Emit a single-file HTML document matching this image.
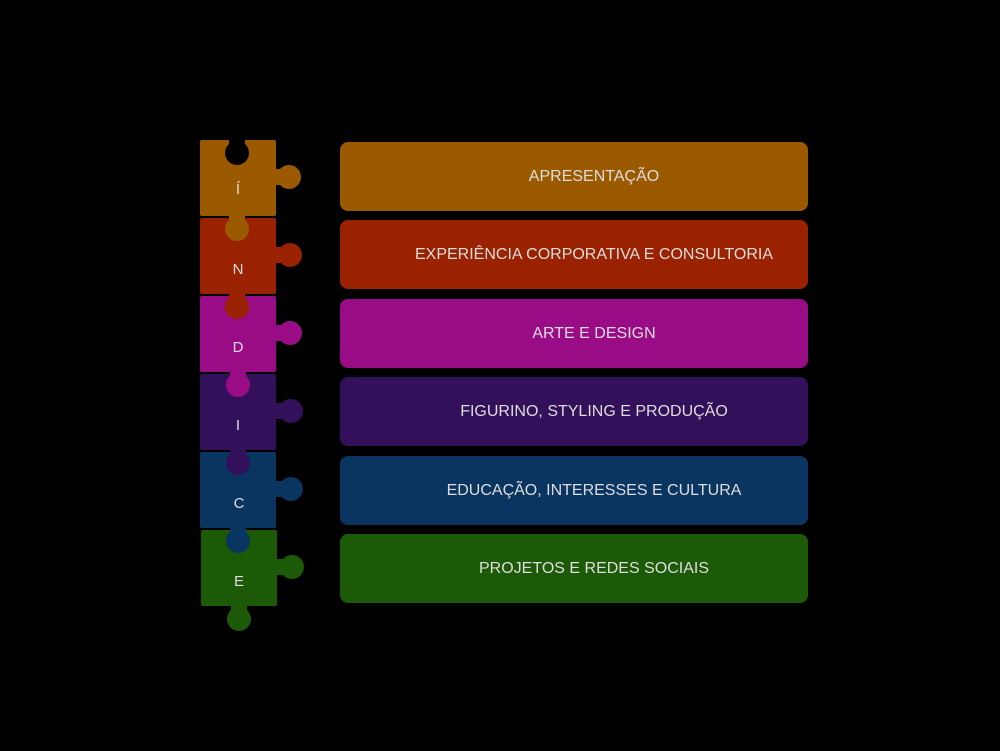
<!DOCTYPE html>
<html><head><style>
body{margin:0;background:#000;width:1000px;height:751px;overflow:hidden;position:relative;font-family:"Liberation Sans",sans-serif}
.bar{position:absolute;left:340px;width:468px;height:69px;border-radius:8px;color:#ddd;font-size:16px;display:flex;align-items:center;justify-content:center;padding-left:40px;box-sizing:border-box}
svg{position:absolute;left:0;top:0}
</style></head><body>
<svg width="1000" height="751">
<rect x="200" y="140" width="76" height="76" rx="2" fill="#9c5a00"/>
<rect x="200" y="218" width="76" height="76" rx="2" fill="#9a2200"/>
<rect x="200" y="296" width="76" height="76" rx="2" fill="#9a0c86"/>
<rect x="200" y="374" width="76" height="76" rx="2" fill="#33105a"/>
<rect x="200" y="452" width="76" height="76" rx="2" fill="#0a3560"/>
<rect x="201" y="530" width="76" height="76" rx="2" fill="#1d5a08"/>
<circle cx="237" cy="153" r="12" fill="#000"/>
<rect x="229" y="138" width="16" height="10" fill="#000"/>
<g>
<rect x="272" y="169" width="12" height="16" fill="#9c5a00"/><circle cx="289" cy="177" r="12" fill="#9c5a00"/>
<rect x="229" y="212" width="16" height="10" fill="#9c5a00"/><circle cx="237" cy="229" r="12" fill="#9c5a00"/>
<rect x="272" y="247" width="12" height="16" fill="#9a2200"/><circle cx="290" cy="255" r="12" fill="#9a2200"/>
<rect x="229" y="290" width="16" height="10" fill="#9a2200"/><circle cx="237" cy="307" r="12" fill="#9a2200"/>
<rect x="272" y="325" width="12" height="16" fill="#9a0c86"/><circle cx="290" cy="333" r="12" fill="#9a0c86"/>
<rect x="230" y="368" width="16" height="10" fill="#9a0c86"/><circle cx="238" cy="385" r="12" fill="#9a0c86"/>
<rect x="272" y="403" width="12" height="16" fill="#33105a"/><circle cx="291" cy="411" r="12" fill="#33105a"/>
<rect x="230" y="446" width="16" height="10" fill="#33105a"/><circle cx="238" cy="463" r="12" fill="#33105a"/>
<rect x="272" y="481" width="12" height="16" fill="#0a3560"/><circle cx="291" cy="489" r="12" fill="#0a3560"/>
<rect x="230" y="524" width="16" height="10" fill="#0a3560"/><circle cx="238" cy="541" r="12" fill="#0a3560"/>
<rect x="273" y="559" width="12" height="16" fill="#1d5a08"/><circle cx="292" cy="567" r="12" fill="#1d5a08"/>
<rect x="231" y="602" width="16" height="10" fill="#1d5a08"/><circle cx="239" cy="619" r="12" fill="#1d5a08"/>
</g>
<g fill="#ddd" font-family="Liberation Sans, sans-serif" font-size="15" text-anchor="middle">
<text x="238" y="194">Í</text>
<text x="238" y="274">N</text>
<text x="238" y="352">D</text>
<text x="238" y="430">I</text>
<text x="239" y="508">C</text>
<text x="239" y="586">E</text>
</g>
</svg>
<div class="bar" style="top:142px;background:#9c5a00">APRESENTAÇÃO</div>
<div class="bar" style="top:220px;background:#9a2200">EXPERIÊNCIA CORPORATIVA E CONSULTORIA</div>
<div class="bar" style="top:299px;background:#9a0c86">ARTE E DESIGN</div>
<div class="bar" style="top:377px;background:#33105a">FIGURINO, STYLING E PRODUÇÃO</div>
<div class="bar" style="top:456px;background:#0a3560">EDUCAÇÃO, INTERESSES E CULTURA</div>
<div class="bar" style="top:534px;background:#1d5a08">PROJETOS E REDES SOCIAIS</div>
</body></html>
